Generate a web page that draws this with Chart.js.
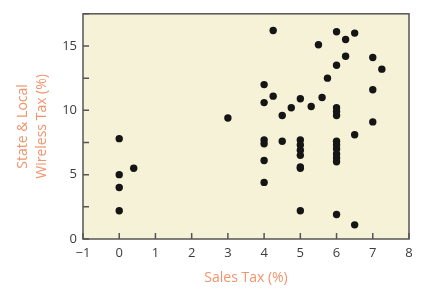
<!DOCTYPE html>
<html>
<head>
<meta charset="utf-8">
<script src="https://cdn.jsdelivr.net/npm/chart.js@4.4.1/dist/chart.umd.min.js"></script>
<style>
  html, body { margin: 0; padding: 0; background: #ffffff; }
  #wrap { width: 447px; height: 293px; }
</style>
</head>
<body>
<div id="wrap"><canvas id="chart"></canvas></div>
<script>
// --- Data ---
const salesTax = [
  0, 0, 0, 0, 0.4,
  3,
  4, 4, 4, 4, 4, 4, 4.25, 4.25,
  4.5, 4.5, 4.75,
  5, 5, 5, 5, 5, 5, 5, 5,
  5.3, 5.5, 5.6, 5.75,
  6, 6, 6, 6, 6, 6, 6, 6, 6, 6, 6, 6,
  6.25, 6.25, 6.5, 6.5, 6.5,
  7, 7, 7, 7.25
];
const wirelessTax = [
  7.8, 5.0, 4.0, 2.2, 5.5,
  9.4,
  12.0, 10.6, 7.7, 7.4, 6.1, 4.4, 16.2, 11.1,
  9.6, 7.6, 10.2,
  10.9, 7.7, 7.3, 6.9, 6.5, 5.6, 5.5, 2.2,
  10.3, 15.1, 11.0, 12.5,
  16.1, 13.5, 10.2, 9.9, 9.6, 7.6, 7.3, 7.0, 6.6, 6.3, 6.0, 1.9,
  15.5, 14.2, 16.0, 8.1, 1.1,
  14.1, 11.6, 9.1, 13.2
];
const xLabelsRange = { min: -1, max: 8, step: 1 };
const yLabelsRange = { min: 0, max: 17.5, step: 2.5, labelEvery: 5 };

const points = salesTax.map((x, i) => ({ x: x, y: wirelessTax[i] }));

// --- Plot background, box border and inward tick marks ---
const boxPlugin = {
  id: 'box',
  beforeDraw(chart) {
    const a = chart.chartArea;
    const ctx = chart.ctx;
    ctx.save();
    ctx.fillStyle = '#f6f2d7';
    ctx.fillRect(a.left, a.top, a.right - a.left, a.bottom - a.top);
    ctx.restore();
  },
  afterDraw(chart) {
    const a = chart.chartArea;
    const ctx = chart.ctx;
    ctx.save();
    ctx.strokeStyle = '#555';
    ctx.lineWidth = 1.5;
    // ticks point into the plot
    const xs = chart.scales.x, ys = chart.scales.y;
    ctx.beginPath();
    xs.ticks.forEach(t => {
      const px = xs.getPixelForValue(t.value);
      ctx.moveTo(px, a.bottom);
      ctx.lineTo(px, a.bottom - 6);
    });
    ys.ticks.forEach(t => {
      const py = ys.getPixelForValue(t.value);
      ctx.moveTo(a.left, py);
      ctx.lineTo(a.left + 6, py);
    });
    ctx.stroke();
    ctx.strokeRect(a.left, a.top, a.right - a.left, a.bottom - a.top);
    ctx.restore();
  }
};

const tickFont = { family: "'Open Sans', sans-serif", size: 13 };
const titleFont = { family: "'Open Sans', sans-serif", size: 14, lineHeight: 1.35 };

new Chart(document.getElementById('chart'), {
  type: 'scatter',
  data: {
    datasets: [{
      data: points,
      backgroundColor: '#151515',
      borderWidth: 0,
      pointRadius: 3.7,
      pointHoverRadius: 3.7
    }]
  },
  options: {
    responsive: true,
    maintainAspectRatio: false,
    animation: false,
    layout: { padding: { left: 0, right: 38, top: 12, bottom: 0 } },
    plugins: {
      legend: { display: false },
      tooltip: { enabled: false }
    },
    scales: {
      x: {
        type: 'linear',
        min: xLabelsRange.min,
        max: xLabelsRange.max,
        afterFit(scale) { scale.height = 54; },
        ticks: {
          stepSize: xLabelsRange.step,
          color: '#3c3c3c',
          font: tickFont,
          padding: 6,
          maxRotation: 0,
          callback: v => (v < 0 ? '\u2212' + Math.abs(v) : String(v))
        },
        grid: { display: false, drawTicks: false },
        border: { display: false },
        title: {
          display: true,
          text: 'Sales Tax (%)',
          color: '#f0946c',
          font: titleFont,
          padding: { top: 0, bottom: 6 }
        }
      },
      y: {
        type: 'linear',
        min: yLabelsRange.min,
        max: yLabelsRange.max,
        afterFit(scale) { scale.width = 83; },
        ticks: {
          stepSize: yLabelsRange.step,
          color: '#3c3c3c',
          font: tickFont,
          padding: 6,
          callback: v => (v % yLabelsRange.labelEvery === 0 ? String(v) : '')
        },
        grid: { display: false, drawTicks: false },
        border: { display: false },
        title: {
          display: true,
          text: ['State & Local', 'Wireless Tax (%)'],
          color: '#f0946c',
          font: titleFont,
          padding: { top: 14, bottom: 0 }
        }
      }
    }
  },
  plugins: [boxPlugin]
});
</script>
</body>
</html>
